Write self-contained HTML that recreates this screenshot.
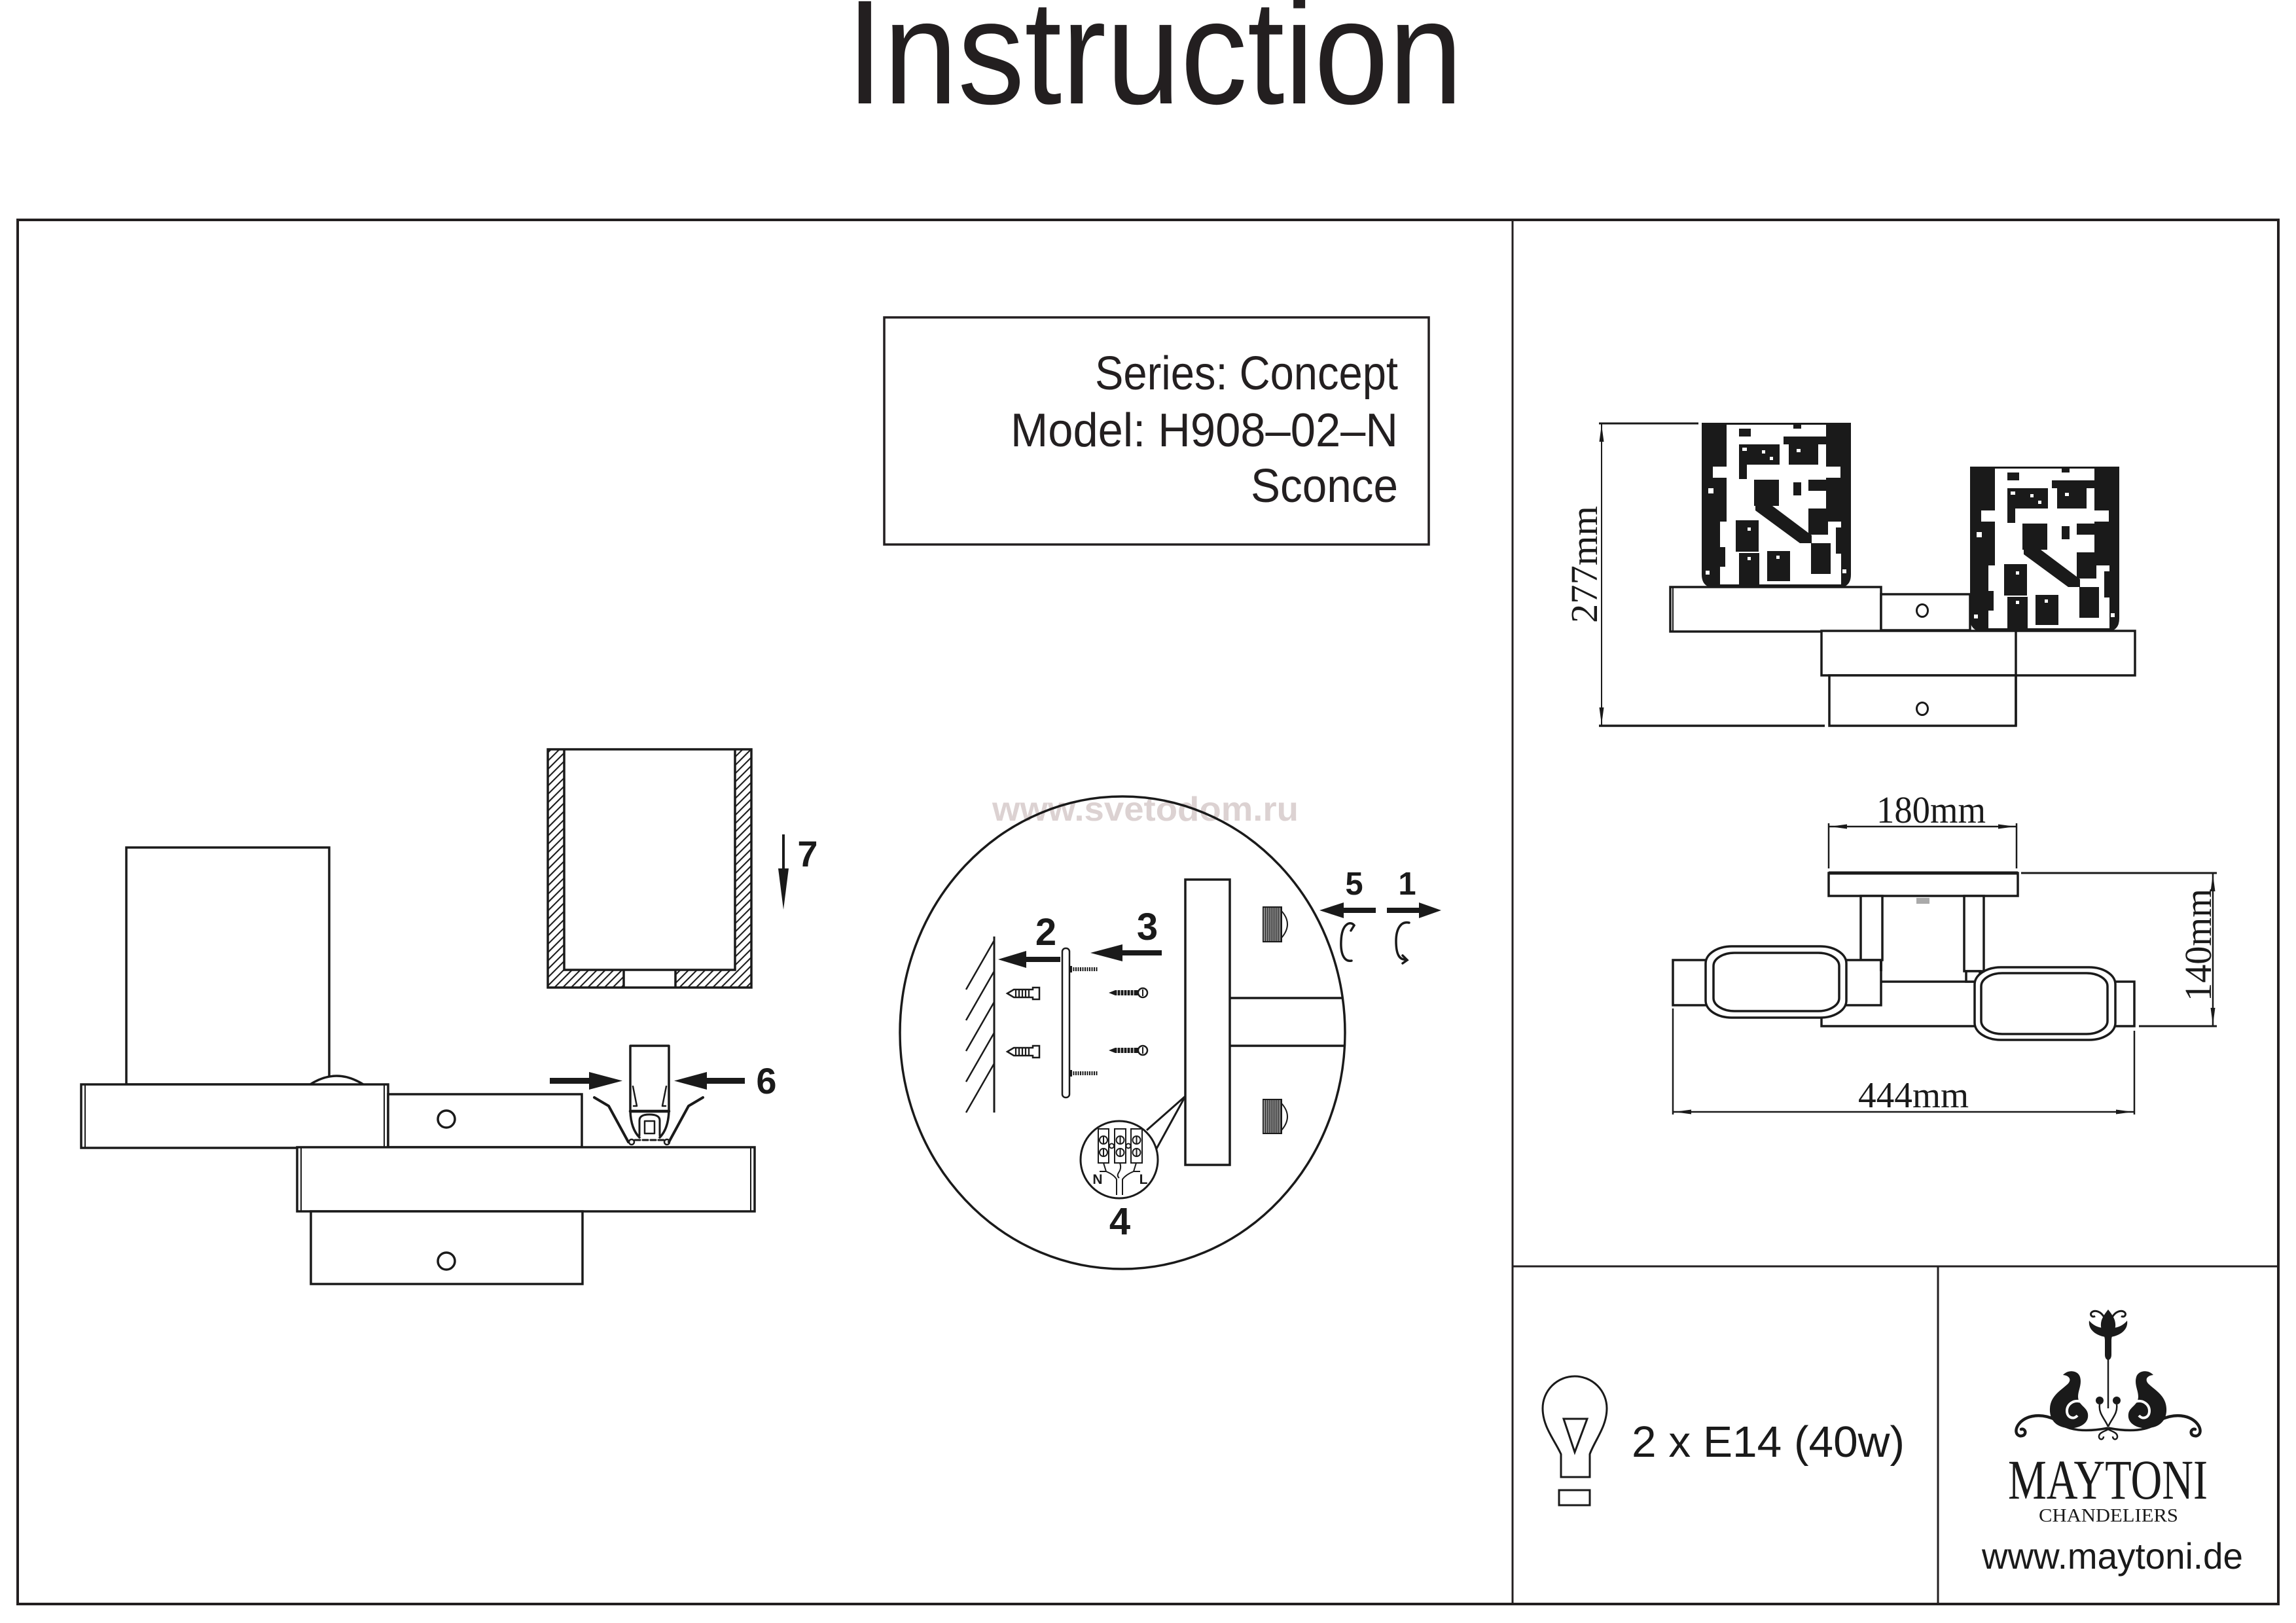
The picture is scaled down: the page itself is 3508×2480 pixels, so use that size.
<!DOCTYPE html>
<html><head><meta charset="utf-8">
<style>html,body{margin:0;padding:0;background:#fff}svg{display:block}</style>
</head>
<body>
<svg width="3508" height="2480" viewBox="0 0 3508 2480" xmlns="http://www.w3.org/2000/svg" font-family="'Liberation Sans', sans-serif">
<defs>
  <pattern id="hatch" width="9" height="9" patternUnits="userSpaceOnUse" patternTransform="rotate(45)">
    <rect width="9" height="9" fill="#fff"/>
    <line x1="1" y1="0" x2="1" y2="9" stroke="#1a1a1a" stroke-width="2.2"/>
  </pattern>
  <pattern id="knurl" width="3" height="3" patternUnits="userSpaceOnUse">
    <rect width="3" height="3" fill="#fff"/>
    <rect width="2" height="3" fill="#1a1a1a"/>
  </pattern>
  <g id="shade">
    <path d="M0 0 H228 V232 Q228 252 208 252 H20 Q0 252 0 232 Z" fill="#1a1a1a"/>
    <g fill="#fff">
      <rect x="38" y="3" width="152" height="61"/>
      <rect x="17" y="67" width="195" height="17"/>
      <rect x="38" y="64" width="152" height="87"/>
      <rect x="28" y="151" width="185" height="96"/>
    </g>
    <g fill="#1a1a1a">
      <rect x="57" y="9" width="18" height="12"/>
      <rect x="140" y="3" width="12" height="6"/>
      <rect x="125" y="21" width="65" height="12"/>
      <rect x="57" y="33" width="62" height="31"/>
      <rect x="133" y="33" width="45" height="31"/>
      <rect x="57" y="64" width="12" height="22"/>
      <rect x="80" y="87" width="38" height="40"/>
      <rect x="140" y="91" width="12" height="20"/>
      <rect x="163" y="87" width="28" height="17"/>
      <polygon points="82,118 96,118 168,172 168,184 150,184 82,134"/>
      <rect x="163" y="131" width="30" height="40"/>
      <rect x="52" y="149" width="35" height="48"/>
      <rect x="57" y="199" width="31" height="48"/>
      <rect x="100" y="196" width="35" height="46"/>
      <rect x="167" y="184" width="30" height="47"/>
      <rect x="28" y="190" width="8" height="30"/>
      <rect x="205" y="160" width="8" height="40"/>
      <rect x="190" y="104" width="10" height="30"/>
    </g>
    <g fill="#fff">
      <rect x="62" y="38" width="7" height="5"/>
      <rect x="92" y="42" width="5" height="5"/>
      <rect x="104" y="52" width="5" height="5"/>
      <rect x="145" y="40" width="6" height="5"/>
      <rect x="70" y="160" width="5" height="5"/>
      <rect x="70" y="205" width="5" height="5"/>
      <rect x="114" y="203" width="5" height="5"/>
      <rect x="6" y="226" width="6" height="6"/>
      <rect x="215" y="224" width="6" height="6"/>
      <rect x="10" y="100" width="8" height="8"/>
    </g>
  </g>
</defs>

<rect width="3508" height="2480" fill="#fff"/>

<!-- Title -->
<text x="1293" y="158" font-size="227" textLength="942" lengthAdjust="spacingAndGlyphs" fill="#231f20">Instruction</text>

<!-- Frame -->
<g fill="none" stroke="#231f20">
  <rect x="27" y="336" width="3454" height="2115" stroke-width="4"/>
  <line x1="2311" y1="336" x2="2311" y2="2451" stroke-width="3"/>
  <line x1="2311" y1="1935" x2="3481" y2="1935" stroke-width="3"/>
  <line x1="2961" y1="1935" x2="2961" y2="2451" stroke-width="3"/>
  <rect x="1351" y="485" width="832" height="347" stroke-width="3.5"/>
</g>

<!-- Info box text -->
<g fill="#231f20" font-size="72">
  <text x="1673" y="595" textLength="463" lengthAdjust="spacingAndGlyphs">Series: Concept</text>
  <text x="1544" y="682" textLength="592" lengthAdjust="spacingAndGlyphs">Model: H908–02–N</text>
  <text x="1911" y="767" textLength="225" lengthAdjust="spacingAndGlyphs">Sconce</text>
</g>

<!-- ================= LEFT DIAGRAM ================= -->
<g fill="#fff" stroke="#1a1a1a" stroke-width="3.5">
  <rect x="193" y="1295" width="310" height="362"/>
  <path d="M474 1657 Q514 1631 555 1657"/>
  <rect x="124" y="1657" width="469" height="97"/>
  <line x1="130" y1="1657" x2="130" y2="1754" stroke-width="2"/>
  <line x1="587" y1="1657" x2="587" y2="1754" stroke-width="2"/>
  <rect x="593" y="1672" width="296" height="81"/>
  <circle cx="682" cy="1710" r="13"/>
  <rect x="454" y="1753" width="699" height="98"/>
  <line x1="460" y1="1753" x2="460" y2="1851" stroke-width="2"/>
  <line x1="1147" y1="1753" x2="1147" y2="1851" stroke-width="2"/>
  <rect x="475" y="1851" width="415" height="111"/>
  <circle cx="682" cy="1927" r="13"/>
</g>

<!-- Hatched glass cross-section -->
<rect x="837" y="1145" width="25" height="364" fill="url(#hatch)"/>
<rect x="1123" y="1145" width="25" height="364" fill="url(#hatch)"/>
<rect x="862" y="1482" width="91" height="27" fill="url(#hatch)"/>
<rect x="1032" y="1482" width="91" height="27" fill="url(#hatch)"/>
<g fill="none" stroke="#1a1a1a" stroke-width="3.5">
  <rect x="837" y="1145" width="311" height="364"/>
  <polyline points="862,1145 862,1482 1123,1482 1123,1145"/>
  <line x1="953" y1="1482" x2="953" y2="1509"/>
  <line x1="1032" y1="1482" x2="1032" y2="1509"/>
</g>

<!-- Arrow 7 -->
<rect x="1195" y="1275" width="4" height="56" fill="#1a1a1a"/>
<polygon points="1189,1327 1205,1327 1197,1390" fill="#1a1a1a"/>
<text x="1234" y="1324" font-size="56" font-weight="bold" text-anchor="middle" fill="#1a1a1a">7</text>

<!-- Socket -->
<g fill="none" stroke="#1a1a1a" stroke-width="3.5" stroke-linecap="round" stroke-linejoin="round">
  <rect x="963" y="1598" width="59" height="100" fill="#fff"/>
  <line x1="963" y1="1698" x2="1022" y2="1698" stroke-width="4.5"/>
  <polyline points="967,1660 973,1690 968,1690" stroke-width="2.5"/>
  <polyline points="1018,1660 1012,1690 1017,1690" stroke-width="2.5"/>
  <path d="M963 1698 Q964 1725 977 1738"/>
  <path d="M1022 1698 Q1021 1725 1008 1738"/>
  <path d="M977 1735 V1712 Q977 1703 992 1703 Q1008 1703 1008 1712 V1735" stroke-width="3"/>
  <rect x="985" y="1713" width="15" height="19" stroke-width="2.5"/>
  <line x1="970" y1="1742" x2="1015" y2="1742" stroke-width="3" stroke-dasharray="8 4"/>
  <circle cx="965" cy="1745" r="4" stroke-width="2.5" fill="#fff"/>
  <circle cx="1019" cy="1745" r="4" stroke-width="2.5" fill="#fff"/>
  <polyline points="908,1677 930,1690 960,1745" stroke-width="4"/>
  <polyline points="1074,1677 1052,1690 1022,1745" stroke-width="4"/>
</g>
<!-- Arrows 6 -->
<rect x="840" y="1647" width="64" height="9" fill="#1a1a1a"/>
<polygon points="900,1638 951,1651.5 900,1665" fill="#1a1a1a"/>
<rect x="1076" y="1647" width="62" height="9" fill="#1a1a1a"/>
<polygon points="1080,1638 1030,1651.5 1080,1665" fill="#1a1a1a"/>
<text x="1171" y="1671" font-size="56" font-weight="bold" text-anchor="middle" fill="#1a1a1a">6</text>

<!-- ================= CIRCLE DETAIL ================= -->
<text x="1516" y="1254" font-size="52" font-weight="bold" textLength="468" lengthAdjust="spacingAndGlyphs" fill="#dcd2d2">www.svetodom.ru</text>
<ellipse cx="1715" cy="1578" rx="340" ry="361" fill="none" stroke="#1a1a1a" stroke-width="3.5"/>

<!-- wall -->
<g stroke="#1a1a1a" stroke-width="2.5" fill="none">
  <line x1="1519" y1="1431" x2="1519" y2="1700" stroke-width="3"/>
  <line x1="1519" y1="1437" x2="1476" y2="1512"/>
  <line x1="1519" y1="1484" x2="1476" y2="1559"/>
  <line x1="1519" y1="1531" x2="1476" y2="1606"/>
  <line x1="1519" y1="1578" x2="1476" y2="1653"/>
  <line x1="1519" y1="1625" x2="1476" y2="1700"/>
</g>

<!-- arrow 2 -->
<rect x="1562" y="1462" width="58" height="8" fill="#1a1a1a"/>
<polygon points="1525,1466 1568,1453 1568,1479" fill="#1a1a1a"/>
<text x="1598" y="1444" font-size="58" font-weight="bold" text-anchor="middle" fill="#1a1a1a">2</text>
<!-- arrow 3 -->
<rect x="1712" y="1452" width="63" height="8" fill="#1a1a1a"/>
<polygon points="1666,1456 1715,1443 1715,1469" fill="#1a1a1a"/>
<text x="1753" y="1436" font-size="58" font-weight="bold" text-anchor="middle" fill="#1a1a1a">3</text>

<!-- plate -->
<rect x="1623" y="1449" width="11" height="228" rx="5" fill="#fff" stroke="#1a1a1a" stroke-width="2.5"/>
<line x1="1636" y1="1481" x2="1677" y2="1481" stroke="#1a1a1a" stroke-width="6" stroke-dasharray="2 1.5"/>
<rect x="1634" y="1476" width="4" height="10" fill="#1a1a1a"/>
<line x1="1636" y1="1640" x2="1677" y2="1640" stroke="#1a1a1a" stroke-width="6" stroke-dasharray="2 1.5"/>
<rect x="1634" y="1635" width="4" height="10" fill="#1a1a1a"/>

<!-- dowels -->
<g transform="translate(0,1518)">
  <path d="M1539 0 L1549 -6 L1578 -6 L1578 -9 L1588 -9 L1588 9 L1578 9 L1578 6 L1549 6 Z" fill="#fff" stroke="#1a1a1a" stroke-width="2.5"/>
  <path d="M1552 -6 V6 M1557 -6 V6 M1562 -6 V6 M1567 -6 V6 M1572 -6 V6" stroke="#1a1a1a" stroke-width="2.2"/>
</g>
<g transform="translate(0,1607)">
  <path d="M1539 0 L1549 -6 L1578 -6 L1578 -9 L1588 -9 L1588 9 L1578 9 L1578 6 L1549 6 Z" fill="#fff" stroke="#1a1a1a" stroke-width="2.5"/>
  <path d="M1552 -6 V6 M1557 -6 V6 M1562 -6 V6 M1567 -6 V6 M1572 -6 V6" stroke="#1a1a1a" stroke-width="2.2"/>
</g>
<!-- screws -->
<g transform="translate(0,1517)">
  <path d="M1694 0 L1704 -4 L1740 -4 L1740 4 L1704 4 Z" fill="#1a1a1a"/>
  <path d="M1707 -4 V4 M1712 -4 V4 M1717 -4 V4 M1722 -4 V4 M1727 -4 V4 M1732 -4 V4" stroke="#fff" stroke-width="1.2"/>
  <circle cx="1746" cy="0" r="7" fill="#fff" stroke="#1a1a1a" stroke-width="2.5"/>
  <line x1="1746" y1="-5" x2="1746" y2="5" stroke="#1a1a1a" stroke-width="2"/>
</g>
<g transform="translate(0,1605)">
  <path d="M1694 0 L1704 -4 L1740 -4 L1740 4 L1704 4 Z" fill="#1a1a1a"/>
  <path d="M1707 -4 V4 M1712 -4 V4 M1717 -4 V4 M1722 -4 V4 M1727 -4 V4 M1732 -4 V4" stroke="#fff" stroke-width="1.2"/>
  <circle cx="1746" cy="0" r="7" fill="#fff" stroke="#1a1a1a" stroke-width="2.5"/>
  <line x1="1746" y1="-5" x2="1746" y2="5" stroke="#1a1a1a" stroke-width="2"/>
</g>

<!-- backplate and arm -->
<rect x="1811" y="1344" width="68" height="436" fill="#fff" stroke="#1a1a1a" stroke-width="3.5"/>
<line x1="1879" y1="1525" x2="2051" y2="1525" stroke="#1a1a1a" stroke-width="3.5"/>
<line x1="1879" y1="1598" x2="2054" y2="1598" stroke="#1a1a1a" stroke-width="3.5"/>

<!-- nuts -->
<rect x="1930" y="1386" width="28" height="53" fill="url(#knurl)" stroke="#1a1a1a" stroke-width="2"/>
<path d="M1958 1392 Q1976 1412 1958 1433" fill="none" stroke="#1a1a1a" stroke-width="2"/>
<rect x="1930" y="1680" width="28" height="52" fill="url(#knurl)" stroke="#1a1a1a" stroke-width="2"/>
<path d="M1958 1686 Q1976 1706 1958 1727" fill="none" stroke="#1a1a1a" stroke-width="2"/>

<!-- callout 4 -->
<g stroke="#1a1a1a" stroke-width="3" fill="none">
  <line x1="1752" y1="1727" x2="1811" y2="1675"/>
  <line x1="1766" y1="1757" x2="1811" y2="1675"/>
</g>
<circle cx="1710" cy="1772" r="59" fill="#fff" stroke="#1a1a1a" stroke-width="3"/>
<g stroke="#1a1a1a" stroke-width="2" fill="#fff">
  <rect x="1678" y="1725" width="16" height="52"/>
  <rect x="1703" y="1725" width="17" height="52"/>
  <rect x="1728" y="1725" width="17" height="52"/>
  <circle cx="1686" cy="1742" r="6"/><circle cx="1711.5" cy="1742" r="6"/><circle cx="1736.5" cy="1742" r="6"/>
  <circle cx="1686" cy="1761" r="6"/><circle cx="1711.5" cy="1761" r="6"/><circle cx="1736.5" cy="1761" r="6"/>
  <path d="M1686 1736 V1748 M1711.5 1736 V1748 M1736.5 1736 V1748 M1686 1755 V1767 M1711.5 1755 V1767 M1736.5 1755 V1767" fill="none"/>
  <circle cx="1698.5" cy="1751" r="3.5"/><circle cx="1724" cy="1751" r="3.5"/>
  <path d="M1686 1777 L1690 1790 Q1702 1795 1706 1802 L1706 1826 M1736 1777 L1732 1790 Q1720 1795 1715 1802 L1715 1826 M1711 1777 Q1714 1785 1709 1792 Q1706 1797 1710 1800 M1680 1790 L1690 1790 M1742 1790 L1732 1790" fill="none"/>
</g>
<text x="1677" y="1809" font-size="21" font-weight="bold" text-anchor="middle" fill="#1a1a1a">N</text>
<text x="1747" y="1809" font-size="21" font-weight="bold" text-anchor="middle" fill="#1a1a1a">L</text>
<text x="1711" y="1886" font-size="58" font-weight="bold" text-anchor="middle" fill="#1a1a1a">4</text>

<!-- arrows 5 and 1 -->
<rect x="2050" y="1387" width="52" height="8" fill="#1a1a1a"/>
<polygon points="2016,1391 2053,1379 2053,1403" fill="#1a1a1a"/>
<rect x="2119" y="1387" width="52" height="8" fill="#1a1a1a"/>
<polygon points="2202,1391 2168,1379 2168,1403" fill="#1a1a1a"/>
<text x="2069" y="1367" font-size="49" font-weight="bold" text-anchor="middle" fill="#1a1a1a">5</text>
<text x="2150" y="1367" font-size="49" font-weight="bold" text-anchor="middle" fill="#1a1a1a">1</text>
<g fill="none" stroke="#1a1a1a" stroke-width="3.5" stroke-linecap="round">
  <path d="M2069 1414 C2064 1407 2050 1410 2049 1438 C2048 1460 2055 1470 2065 1468"/>
  <path d="M2069 1414 L2064 1422"/>
  <path d="M2153 1410 C2140 1407 2133 1420 2133 1438 C2133 1458 2138 1467 2148 1466"/>
  <path d="M2143 1460 L2150 1467 L2143 1472"/>
</g>

<!-- ================= RIGHT TOP: ELEVATION ================= -->
<g stroke="#1a1a1a" fill="none">
  <line x1="2443" y1="647" x2="2595" y2="647" stroke-width="3"/>
  <line x1="2443" y1="1109" x2="2788" y2="1109" stroke-width="3.5"/>
  <line x1="2447" y1="647" x2="2447" y2="1109" stroke-width="2"/>
</g>
<polygon points="2447,649 2443.5,675 2450.5,675" fill="#1a1a1a"/>
<polygon points="2447,1107 2443.5,1081 2450.5,1081" fill="#1a1a1a"/>
<text transform="translate(2440,952) rotate(-90)" font-family="'Liberation Serif', serif" font-size="58" textLength="179" lengthAdjust="spacingAndGlyphs" fill="#1a1a1a">277mm</text>

<g fill="#fff" stroke="#1a1a1a" stroke-width="3.5">
  <rect x="2552" y="897" width="322" height="68"/>
  <line x1="2556" y1="897" x2="2556" y2="965" stroke-width="2"/>
  <rect x="2874" y="908" width="136" height="55"/>
  <ellipse cx="2937" cy="933" rx="8.5" ry="9.5" stroke-width="3"/>
  <rect x="2783" y="964" width="479" height="68"/>
  <rect x="2795" y="1032" width="285" height="77"/>
  <line x1="3080" y1="964" x2="3080" y2="1109"/>
  <ellipse cx="2937" cy="1083" rx="8.5" ry="9.5" stroke-width="3"/>
</g>
<use href="#shade" transform="translate(2600,646)"/>
<use href="#shade" transform="translate(3010,713)"/>

<!-- ================= RIGHT MIDDLE: PLAN VIEW ================= -->
<g stroke="#1a1a1a" stroke-width="2.5" fill="none">
  <line x1="2794" y1="1263" x2="3081" y2="1263"/>
  <line x1="2794" y1="1258" x2="2794" y2="1327"/>
  <line x1="3081" y1="1258" x2="3081" y2="1327"/>
  <line x1="3088" y1="1334" x2="3387" y2="1334" stroke-width="3"/>
  <line x1="3268" y1="1568" x2="3387" y2="1568" stroke-width="3"/>
  <line x1="3381" y1="1334" x2="3381" y2="1568"/>
  <line x1="2556" y1="1541" x2="2556" y2="1703"/>
  <line x1="3261" y1="1575" x2="3261" y2="1703"/>
  <line x1="2556" y1="1699" x2="3261" y2="1699"/>
</g>
<g fill="#1a1a1a">
  <polygon points="2796,1263 2822,1259.5 2822,1266.5"/>
  <polygon points="3079,1263 3053,1259.5 3053,1266.5"/>
  <polygon points="3381,1336 3377.5,1362 3384.5,1362"/>
  <polygon points="3381,1566 3377.5,1540 3384.5,1540"/>
  <polygon points="2558,1699 2584,1695.5 2584,1702.5"/>
  <polygon points="3259,1699 3233,1695.5 3233,1702.5"/>
</g>
<g font-family="'Liberation Serif', serif" fill="#1a1a1a">
  <text x="2867" y="1257" font-size="58" textLength="167" lengthAdjust="spacingAndGlyphs">180mm</text>
  <text x="2839" y="1692" font-size="56" textLength="169" lengthAdjust="spacingAndGlyphs">444mm</text>
  <text transform="translate(3378,1530) rotate(-90)" font-size="58" textLength="172" lengthAdjust="spacingAndGlyphs">140mm</text>
</g>

<g fill="#fff" stroke="#1a1a1a" stroke-width="3.5">
  <rect x="2794" y="1334" width="289" height="35"/>
  <line x1="2794" y1="1334" x2="3083" y2="1334" stroke-width="5"/>
  <rect x="2783" y="1500" width="478" height="68"/>
  <rect x="3001" y="1369" width="30" height="115"/>
  <rect x="3004" y="1484" width="21" height="16"/>
  <rect x="3017" y="1478" width="215" height="111" rx="40" ry="26"/>
  <rect x="3027" y="1487" width="193" height="93" rx="32" ry="20"/>
  <rect x="2843" y="1369" width="33" height="98"/>
  <rect x="2556" y="1467" width="318" height="69"/>
  <rect x="2606" y="1446" width="215" height="109" rx="40" ry="26"/>
  <rect x="2618" y="1456" width="192" height="89" rx="32" ry="20"/>
</g>
<rect x="2928" y="1372" width="20" height="9" fill="#aaa"/>
<line x1="2874" y1="1467" x2="2874" y2="1484" stroke="#1a1a1a" stroke-width="4"/>

<!-- ================= BULB ================= -->
<g fill="none" stroke="#1a1a1a" stroke-width="3">
  <path d="M2385 2257 L2385 2222 C2375 2200 2357 2180 2357 2152 A49 49 0 0 1 2455 2152 C2455 2180 2437 2200 2429 2222 L2429 2257 Z"/>
  <polygon points="2389,2168 2425,2168 2406,2219"/>
  <rect x="2382" y="2277" width="47" height="23"/>
</g>
<text x="2493" y="2226" font-size="67" textLength="417" lengthAdjust="spacingAndGlyphs" fill="#1a1a1a">2 x E14 (40w)</text>

<!-- ================= LOGO ================= -->
<g id="logoHalf" fill="#1a1a1a">
  <path d="M3192 2018 C3190 2032 3203 2041 3217 2043 L3217 2029 C3207 2030 3198 2025 3192 2018 Z"/>
  <path d="M3215 2013 C3210 2004 3201 2001 3196 2005 C3192 2009 3197 2014 3201 2011" fill="none" stroke="#1a1a1a" stroke-width="3"/>
  <path d="M3152 2101 C3160 2092 3175 2094 3178 2104 C3182 2118 3172 2128 3176 2140 C3180 2150 3192 2152 3190 2166 C3188 2178 3172 2184 3158 2182 C3140 2180 3131 2168 3132 2152 C3133 2132 3150 2124 3160 2114 C3165 2108 3162 2102 3152 2101 Z"/>
  <path d="M3180 2142 C3168 2138 3158 2146 3158 2156 C3158 2166 3168 2170 3174 2163" fill="none" stroke="#fff" stroke-width="4"/>
  <circle cx="3167" cy="2157" r="3" fill="#1a1a1a"/>
  <circle cx="3208" cy="2140" r="6"/>
  <path d="M3208 2146 C3206 2160 3216 2168 3221 2180" fill="none" stroke="#1a1a1a" stroke-width="2.5"/>
  <path d="M3221 2182 C3200 2186 3170 2189 3150 2177" fill="none" stroke="#1a1a1a" stroke-width="3.5"/>
  <path d="M3142 2170 C3115 2157 3090 2164 3082 2180 C3077 2191 3085 2197 3092 2193 C3097 2189 3093 2182 3088 2184" fill="none" stroke="#1a1a1a" stroke-width="4.5" stroke-linecap="round"/>
  <path d="M3221 2184 C3216 2187 3206 2189 3207 2196 C3208 2201 3214 2200 3214 2195" fill="none" stroke="#1a1a1a" stroke-width="2.5"/>
</g>
<use href="#logoHalf" transform="translate(6442,0) scale(-1,1)"/>
<path d="M3221 2001 C3228 2010 3233 2017 3232 2027 C3231 2036 3226 2040 3226 2048 L3226 2070 C3226 2076 3223 2078 3221 2078 C3219 2078 3216 2076 3216 2070 L3216 2048 C3216 2040 3211 2036 3210 2027 C3209 2017 3214 2010 3221 2001 Z" fill="#1a1a1a"/>
<line x1="3221" y1="2076" x2="3221" y2="2152" stroke="#1a1a1a" stroke-width="2.5"/>

<text x="3068" y="2290" font-family="'Liberation Serif', serif" font-size="86" textLength="305" lengthAdjust="spacingAndGlyphs" fill="#1a1a1a">MAYTONI</text>
<text x="3115" y="2325" font-family="'Liberation Serif', serif" font-size="29" textLength="213" lengthAdjust="spacingAndGlyphs" fill="#1a1a1a">CHANDELIERS</text>
<text x="3028" y="2397" font-size="56" textLength="399" lengthAdjust="spacingAndGlyphs" fill="#1a1a1a">www.maytoni.de</text>

</svg>
</body></html>
